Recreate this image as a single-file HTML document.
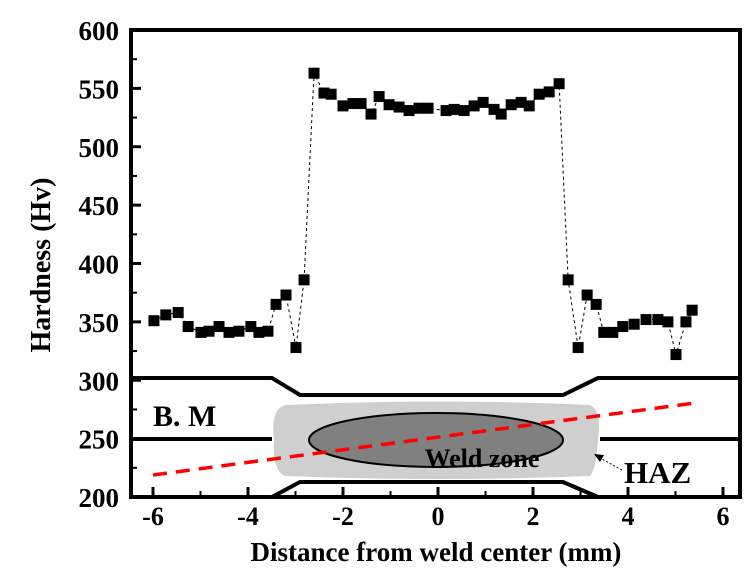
<!DOCTYPE html>
<html><head><meta charset="utf-8"><style>
body{margin:0;background:#fff;}
svg{display:block;font-family:"Liberation Serif",serif;font-weight:bold;}
</style></head><body>
<svg id="chart" width="756" height="587" viewBox="0 0 756 587">
<g>
 <polyline points="131,378 272,378 300,395 563,395 598,378 740,378" fill="none" stroke="#000" stroke-width="4"/>
 <line x1="131" y1="439" x2="272" y2="439" stroke="#000" stroke-width="4"/>
 <line x1="600" y1="439" x2="740" y2="439" stroke="#000" stroke-width="4"/>
 <polyline points="272,497 300,482 563,482 598,497" fill="none" stroke="#000" stroke-width="4"/>
 <path d="M285,405 Q436,398 590,405 Q602,410 598,440 Q596,470 590,476 Q436,482 285,476 Q272,470 274,440 Q270,410 285,405 Z" fill="#cfcfcf"/>
 <ellipse cx="436" cy="440" rx="127" ry="27" fill="#808080" stroke="#000" stroke-width="2"/>
 <line x1="153" y1="475" x2="695" y2="403" stroke="#f00" stroke-width="3.5" stroke-dasharray="14,9"/>
 <text x="153" y="426" font-size="30">B. M</text>
 <text x="482" y="467" font-size="26" text-anchor="middle">Weld zone</text>
 <text x="624" y="483" font-size="31">HAZ</text>
 <line x1="622" y1="470" x2="600" y2="458" stroke="#000" stroke-width="1" stroke-dasharray="2,2"/>
 <polygon points="594,454 604,455 600,462" fill="#000"/>
</g>
<g id="axes"></g>
<g id="series"></g>
<text transform="translate(50,265) rotate(-90)" font-size="28" text-anchor="middle">Hardness (Hv)</text>
<text x="436" y="561" font-size="27" text-anchor="middle">Distance from weld center (mm)</text>
</svg>
<script>
const xTicks=[-6,-4,-2,0,2,4,6];
const yTicks=[200,250,300,350,400,450,500,550,600];
const distance=[-5.98,-5.73,-5.47,-5.26,-4.99,-4.82,-4.61,-4.40,-4.19,-3.94,-3.77,-3.58,-3.41,-3.20,-2.99,-2.82,
-2.61,-2.40,-2.25,-2.0,-1.79,-1.62,-1.41,-1.24,-1.03,-0.82,-0.61,-0.40,-0.21,0.17,0.34,0.55,0.76,0.95,1.18,1.33,1.54,1.75,1.92,2.13,2.34,2.55,
2.74,2.95,3.14,3.33,3.49,3.68,3.89,4.13,4.38,4.63,4.84,5.01,5.22,5.35];
const hardness=[351,356,358,346,341,342,346,341,342,346,341,342,365,373,328,386,
563,546,545,535,537,537,528,543,536,534,531,533,533,531,532,531,535,538,532,528,536,538,535,545,547,554,
386,328,373,365,341,341,346,348,352,352,350,322,350,360];
const NS="http://www.w3.org/2000/svg";
const X0=131,X1=740,Y0=497,Y1=30;
function xs(v){return 438+47.5*v;}
function ys(v){return Y0-(v-200)*(Y0-Y1)/400;}
function mk(t,a,p){const e=document.createElementNS(NS,t);for(const k in a)e.setAttribute(k,a[k]);p.appendChild(e);return e;}
const ax=document.getElementById('axes');
const fr=mk('rect',{x:X0,y:Y1,width:X1-X0,height:Y0-Y1,fill:'none',stroke:'#000','stroke-width':4},ax);


xTicks.forEach(v=>{
 const l=mk('line',{x1:xs(v),y1:Y0,x2:xs(v),y2:Y0-10,stroke:'#000','stroke-width':3},ax);
 
 
 const m=mk('line',{x1:xs(v+1),y1:Y0,x2:xs(v+1),y2:Y0-6,stroke:'#000','stroke-width':2},ax);
 
 
 const t=mk('text',{x:xs(v),y:Y0+28,'font-size':26,'text-anchor':'middle'},ax);t.textContent=v;
 
 
});
yTicks.forEach(v=>{
 const l=mk('line',{x1:X0,y1:ys(v),x2:X0+10,y2:ys(v),stroke:'#000','stroke-width':3},ax);
 
 
 if(v<600){const m=mk('line',{x1:X0,y1:ys(v+25),x2:X0+6,y2:ys(v+25),stroke:'#000','stroke-width':2},ax);
 
 }
 const t=mk('text',{x:119,y:ys(v)+10,'font-size':27,'text-anchor':'end'},ax);t.textContent=v;
 
 
});
const sg=document.getElementById('series');
const pl=mk('polyline',{points:distance.map((d,i)=>xs(d)+','+ys(hardness[i])).join(' '),fill:'none',stroke:'#000','stroke-width':1,'stroke-dasharray':'3,3'},sg);


distance.forEach((d,i)=>{
 const r=mk('rect',{x:xs(d)-5.5,y:ys(hardness[i])-5.5,width:11,height:11,fill:'#000'},sg);
 
 
});
</script>
</body></html>
